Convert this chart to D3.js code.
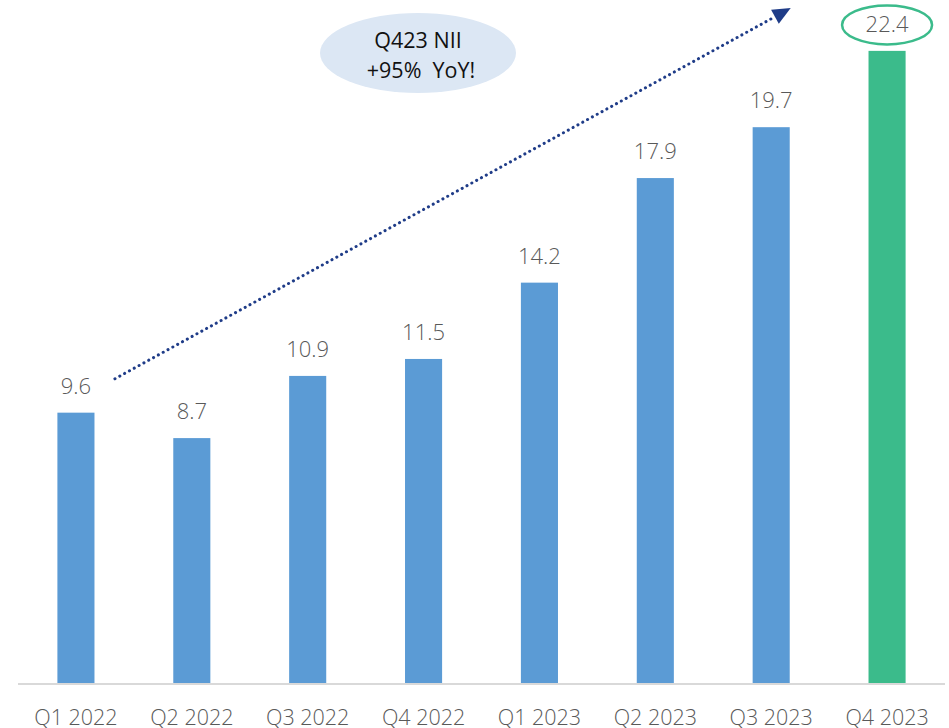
<!DOCTYPE html>
<html>
<head>
<meta charset="utf-8">
<script src="https://cdn.jsdelivr.net/npm/d3@7"></script>
<style>
  html, body { margin: 0; padding: 0; background: #fff; }
  svg { display: block; }
</style>
</head>
<body>
<svg id="chart" width="949" height="728"></svg>
<script>
// Net interest income by quarter
const quarters = ["Q1 2022", "Q2 2022", "Q3 2022", "Q4 2022", "Q1 2023", "Q2 2023", "Q3 2023", "Q4 2023"];
const nii = [9.6, 8.7, 10.9, 11.5, 14.2, 17.9, 19.7, 22.4];
const highlightQuarter = "Q4 2023";
const calloutLines = ["Q423 NII", "+95%  YoY!"];
// trend arrow runs from just above the first bar to the top of the plot
const trendFrom = { q: "Q1 2022", v: 10.8 };
const trendTo = { q: "Q3 2023", v: 23.75 };

const W = 949, H = 728;
const margin = { left: 18, right: 4, top: 0, bottom: 44 };

const svg = d3.select("#chart");

const x = d3.scaleBand()
  .domain(quarters)
  .range([margin.left, W - margin.right])
  .paddingInner(0.68)
  .paddingOuter(0.34);

const y = d3.scaleLinear()
  .domain([0, 24.2])
  .range([H - margin.bottom, margin.top]);

const blue = "#5b9bd5", green = "#3bbb8b", labelGrey = "#595959";
const fontFamily = "'Open Sans', 'Noto Sans', sans-serif";

// bars
svg.append("g").selectAll("rect")
  .data(quarters)
  .join("rect")
  .attr("x", d => x(d))
  .attr("width", x.bandwidth())
  .attr("y", (d, i) => y(nii[i]))
  .attr("height", (d, i) => y(0) - y(nii[i]))
  .attr("fill", d => d === highlightQuarter ? green : blue);

// x axis
const xAxis = svg.append("g")
  .attr("transform", `translate(0,${y(0)})`)
  .call(d3.axisBottom(x).tickSize(0).tickPadding(26));
xAxis.select(".domain").attr("stroke", "#d9d9d9").attr("stroke-width", 2)
  .attr("d", `M${margin.left},0H${W - margin.right}`);
xAxis.selectAll("text")
  .attr("fill", labelGrey)
  .style("font-family", fontFamily)
  .style("font-weight", 300)
  .style("font-size", "21.5px")
  .attr("dy", "0.71em");

// value labels
svg.append("g").selectAll("text")
  .data(quarters)
  .join("text")
  .attr("x", d => x(d) + x.bandwidth() / 2)
  .attr("y", (d, i) => y(nii[i]) - 19)
  .attr("text-anchor", "middle")
  .attr("fill", labelGrey)
  .style("font-family", fontFamily)
  .style("font-weight", 300)
  .style("font-size", "22px")
  .text((d, i) => nii[i].toFixed(1));

// ring around the highlighted value
const hi = quarters.indexOf(highlightQuarter);
svg.append("ellipse")
  .attr("cx", x(highlightQuarter) + x.bandwidth() / 2)
  .attr("cy", y(nii[hi]) - 26)
  .attr("rx", 45)
  .attr("ry", 19.5)
  .attr("fill", "none")
  .attr("stroke", green)
  .attr("stroke-width", 2.5);

// dotted trend arrow
const navy = "#1f3c88";
const x0 = x(trendFrom.q) + x.bandwidth() / 2 + 39;
const y0 = y(trendFrom.v);
const x1 = x(trendTo.q) + x.bandwidth() / 2 + 2;
const y1 = y(trendTo.v) + 5;
svg.append("line")
  .attr("x1", x0).attr("y1", y0)
  .attr("x2", x1).attr("y2", y1)
  .attr("stroke", navy)
  .attr("stroke-width", 3)
  .attr("stroke-dasharray", "0.1 5.4")
  .attr("stroke-linecap", "round");
// arrow tip
const ang = Math.atan2(y1 - y0, x1 - x0);
const tip = [x1 + 20 * Math.cos(ang), y1 + 20 * Math.sin(ang)];
const base = [x1 + 2 * Math.cos(ang), y1 + 2 * Math.sin(ang)];
const nx = -Math.sin(ang), ny = Math.cos(ang);
svg.append("path")
  .attr("d", `M${tip[0]},${tip[1]}L${base[0] + 8 * nx},${base[1] + 8 * ny}L${base[0] - 8 * nx},${base[1] - 8 * ny}Z`)
  .attr("fill", navy);

// callout bubble
const callout = svg.append("g").attr("transform", "translate(418,53)");
callout.append("ellipse")
  .attr("rx", 98).attr("ry", 40)
  .attr("fill", "#dce7f4");
callout.selectAll("text")
  .data(calloutLines)
  .join("text")
  .attr("x", (d, i) => i === 0 ? 0 : 3)
  .attr("y", (d, i) => i === 0 ? -5 : 25)
  .attr("text-anchor", "middle")
  .attr("fill", "#111")
  .style("font-family", fontFamily)
  .style("font-size", "21.5px")
  .style("white-space", "pre")
  .attr("xml:space", "preserve")
  .text(d => d);
</script>
</body>
</html>
